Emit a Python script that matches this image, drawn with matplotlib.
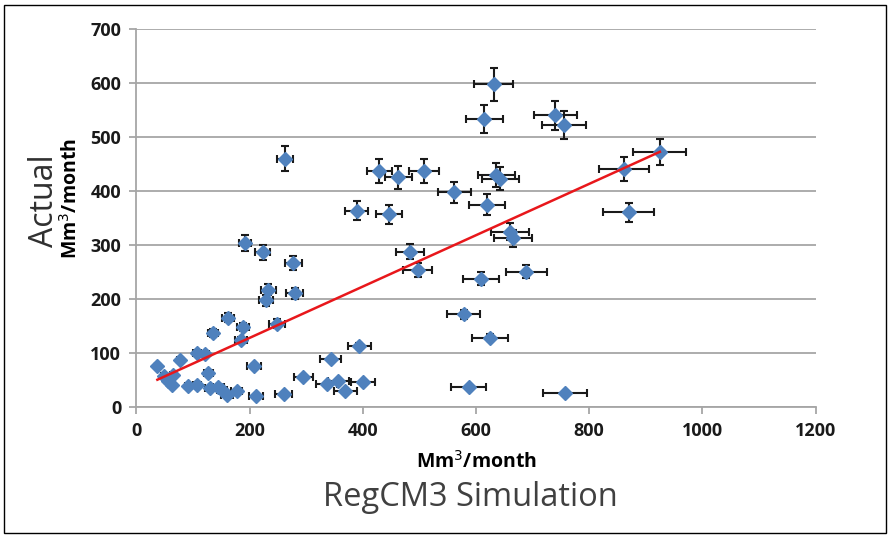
import matplotlib
matplotlib.use("Agg")
import matplotlib.pyplot as plt
from matplotlib.patches import Rectangle

# RegCM3 simulated vs actual (Mm3/month)
sim_x = [37, 48, 55, 62, 65, 77, 92, 107, 107, 121, 127, 130, 135, 145, 151, 160,
         162, 177, 185, 188, 208, 211, 248, 260, 229, 233, 280, 277, 223, 192, 263,
         295, 336, 343, 357, 369, 394, 401, 389, 429, 447, 463, 484, 497, 508, 562,
         578, 587, 609, 615, 619, 625, 631, 636, 643, 660, 665, 689, 740, 755, 758,
         861, 870, 925]
actual_y = [76, 57, 47, 40, 59, 87, 39, 40, 99, 98, 62, 34, 137, 37, 31, 22,
            165, 30, 124, 148, 76, 19, 154, 24, 197, 217, 210, 267, 286, 303, 459,
            55, 42, 88, 47, 30, 112, 45, 363, 436, 356, 425, 287, 253, 436, 397,
            171, 37, 237, 533, 374, 128, 597, 429, 422, 324, 312, 250, 540, 521, 25,
            440, 360, 472]
x_err = [4, 5, 5, 5, 5, 6, 6, 7, 7, 8, 8, 8, 9, 9, 9, 10,
         10, 10, 11, 11, 12, 12, 14, 15, 13, 13, 15, 15, 13, 11, 14,
         17, 18, 19, 19, 20, 21, 21, 20, 22, 23, 24, 25, 26, 26, 29,
         30, 31, 32, 32, 32, 32, 34, 33, 33, 34, 34, 36, 38, 39, 39,
         44, 45, 47]
y_err = [4, 3, 2, 2, 3, 4, 2, 2, 5, 5, 3, 2, 7, 2, 2, 1,
         8, 2, 6, 7, 4, 1, 8, 1, 10, 11, 10, 13, 14, 15, 23,
         3, 2, 4, 2, 2, 6, 2, 18, 22, 18, 21, 14, 13, 22, 20,
         9, 2, 12, 26, 19, 6, 30, 22, 21, 16, 16, 12, 27, 26, 1,
         22, 18, 24]

# linear trend line end points
trend_x = [37, 925]
trend_y = [50, 472]

x_ticks = [0, 200, 400, 600, 800, 1000, 1200]
y_ticks = [0, 100, 200, 300, 400, 500, 600, 700]

plt.rcParams['font.family'] = ['Open Sans', 'DejaVu Sans']

fig = plt.figure(figsize=(8.9, 5.37), dpi=100)
ax = fig.add_axes([0.1533, 0.2426, 0.7630, 0.7040])

grid_col = '#A6A6A6'
ax.set_xlim(0, 1200)
ax.set_ylim(0, 700)
ax.set_xticks(x_ticks)
ax.set_yticks(y_ticks)
ax.yaxis.grid(True, color=grid_col, lw=1.3)
ax.set_axisbelow(True)
for side in ['top', 'right']:
    ax.spines[side].set_visible(False)
for side in ['left', 'bottom']:
    ax.spines[side].set_color(grid_col)
    ax.spines[side].set_linewidth(1.3)
ax.tick_params(axis='both', direction='out', length=5, width=1.3, color=grid_col,
               labelsize=13, labelcolor='#1a1a1a', pad=6)
for lab in ax.get_xticklabels() + ax.get_yticklabels():
    lab.set_fontweight('bold')

ax.errorbar(sim_x, actual_y, xerr=x_err, yerr=y_err, fmt='none', ecolor='#1a1a1a',
            elinewidth=1.5, capsize=3, capthick=1.5, zorder=2)
ax.plot(sim_x, actual_y, 'D', color='#4F81BD', ms=7.3, mec='#4F81BD', zorder=3)
ax.plot(trend_x, trend_y, color='#E8171B', lw=1.8, zorder=4)

ax.set_xlabel('Mm$^3$/month', fontsize=14, fontweight='bold', labelpad=8)
fig.text(0.528, 0.074, 'RegCM3 Simulation', fontsize=23.5, color='#404040',
         ha='center', va='center')
fig.text(0.050, 0.626, 'Actual', fontsize=23, color='#303030', rotation=90,
         ha='center', va='center')
fig.text(0.080, 0.630, 'Mm$^3$/month', fontsize=14, fontweight='bold', rotation=90,
         ha='center', va='center')

fig.patches.append(Rectangle((0.005, 0.008), 0.99, 0.982, transform=fig.transFigure,
                             fill=False, edgecolor='black', lw=1))

fig.savefig('out.png', dpi=100)
